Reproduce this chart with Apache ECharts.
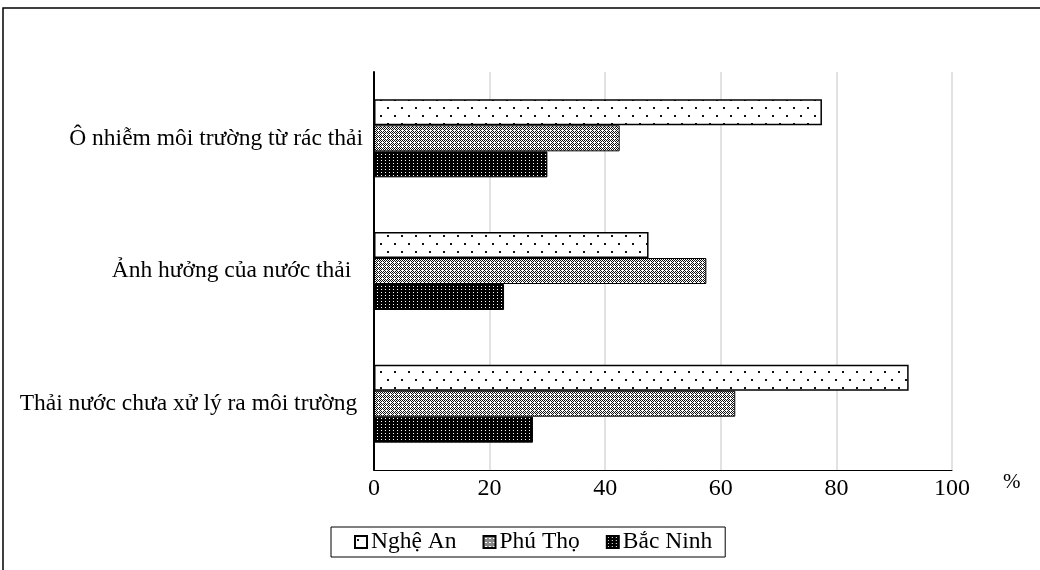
<!DOCTYPE html>
<html>
<head>
<meta charset="utf-8">
<script src="https://cdn.jsdelivr.net/npm/echarts@6/dist/echarts.min.js"></script>
<style>
html,body{margin:0;padding:0;background:#fff;}
#chart{width:1040px;height:570px;}
</style>
</head>
<body>
<div id="chart"></div>
<script>
const categories = ["Ô nhiễm môi trường từ rác thải", "Ảnh hưởng của nước thải  ", "Thải nước chưa xử lý ra môi trường "];
const seriesNames = ["Nghệ An", "Phú Thọ", "Bắc Ninh"];
const ngheAn = [77.5, 47.5, 92.5];
const phuTho = [42.5, 57.5, 62.5];
const bacNinh = [30, 22.5, 27.5];
const xTicks = [0, 20, 40, 60, 80, 100];

function makePattern(w, h, draw) {
  const c = document.createElement('canvas');
  c.width = w; c.height = h;
  const ctx = c.getContext('2d');
  draw(ctx);
  return { image: c, repeat: 'repeat' };
}
const patDots = makePattern(14, 16, ctx => {
  ctx.fillStyle = '#fff'; ctx.fillRect(0, 0, 14, 16);
  ctx.fillStyle = '#111';
  ctx.fillRect(2, 3, 2, 2);
  ctx.fillRect(9, 11, 2, 2);
});
const patChecker = makePattern(4, 4, ctx => {
  ctx.fillStyle = '#fff'; ctx.fillRect(0, 0, 4, 4);
  ctx.fillStyle = '#111';
  const px = [[0,0],[2,0],[1,1],[3,1],[0,2],[1,3],[3,3]];
  px.forEach(p => ctx.fillRect(p[0], p[1], 1, 1));
});
const patDark = makePattern(4, 3, ctx => {
  ctx.fillStyle = '#000'; ctx.fillRect(0, 0, 4, 3);
  ctx.fillStyle = '#fff';
  ctx.fillRect(1, 1, 1, 1);
});

const font = '"Liberation Serif", "Times New Roman", serif';
const chart = echarts.init(document.getElementById('chart'));
const mk = (name, data, pat, bw) => ({
  name, type: 'bar', data, barWidth: 26, barGap: '0%',
  itemStyle: { color: pat, borderColor: '#000', borderWidth: bw },
  emphasis: { disabled: true }
});
chart.setOption({
  animation: false,
  backgroundColor: '#fff',
  textStyle: { fontFamily: font, color: '#000' },
  graphic: [{
    type: 'rect', shape: { x: 3, y: 8, width: 1100, height: 620 },
    style: { fill: 'none', stroke: '#000', lineWidth: 1.5 }, silent: true
  }],
  grid: { left: 374, right: 88, top: 72, bottom: 100, containLabel: false },
  xAxis: {
    type: 'value', min: 0, max: 100, interval: 20,
    name: '%', nameLocation: 'end', nameGap: 51,
    nameTextStyle: { fontFamily: font, fontSize: 21, color: '#000', verticalAlign: 'top', padding: [2, 0, 0, 0] },
    axisLine: { show: true, lineStyle: { color: '#000', width: 1 } },
    axisTick: { show: false },
    axisLabel: { fontFamily: font, fontSize: 24, color: '#000', margin: 7,
      formatter: v => xTicks.includes(v) ? String(v) : '' },
    splitLine: { show: true, lineStyle: { color: '#d9d9d9', width: 1.5 } }
  },
  yAxis: {
    type: 'category', data: categories, inverse: true,
    axisLine: { show: true, lineStyle: { color: '#000', width: 2 } },
    axisTick: { show: false },
    axisLabel: { fontFamily: font, fontSize: 23.5, color: '#000', margin: 11 }
  },
  legend: {
    data: seriesNames, left: 331, top: 527,
    orient: 'horizontal',
    itemWidth: 12, itemHeight: 12, itemGap: 26,
    icon: 'rect',
    borderColor: '#000', borderWidth: 1,
    padding: [3, 13, 3, 23],
    textStyle: { fontFamily: font, fontSize: 23.5, color: '#000', padding: [0, 0, 0, -1] }
  },
  series: [
    mk(seriesNames[0], ngheAn, patDots, 1.5),
    mk(seriesNames[1], phuTho, patChecker, 1),
    mk(seriesNames[2], bacNinh, patDark, 1)
  ]
});
</script>
</body>
</html>
